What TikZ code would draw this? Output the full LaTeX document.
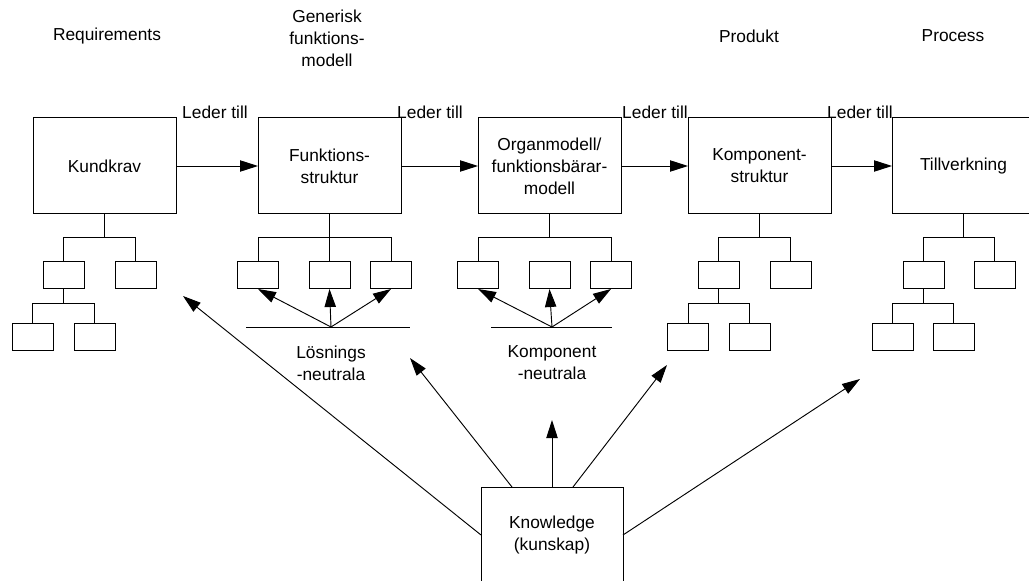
\documentclass[tikz,border=0pt]{standalone}
\usepackage{fontspec}
\setmainfont{Liberation Sans}
\usetikzlibrary{arrows.meta,calc}
\begin{document}
\begin{tikzpicture}[x=0.75pt,y=-0.75pt,
  every node/.style={font=\fontsize{13}{16.5}\selectfont},
  bigbox/.style={draw,line width=0.75pt,minimum width=107.25pt,minimum height=72pt,
    inner sep=0pt,outer sep=0pt,align=center},
  smallbox/.style={draw,line width=0.75pt,minimum width=30.75pt,minimum height=20.25pt,
    inner sep=0pt,outer sep=0pt},
  lbl/.style={align=center,inner sep=0pt},
  conn/.style={line width=0.75pt},
  flow/.style={line width=0.7pt,-{Triangle[length=13.5pt,width=8.5pt]}}]

\useasboundingbox (0,0) rectangle (1029,581);
\clip (0,0) rectangle (1029,581);

% column headings
\node[lbl] (hReq)  at (107,36) {Requirements};
\node[lbl] (hGen)  at (327,38) {Generisk\\funktions-\\modell};
\node[lbl] (hProd) at (749,36) {Produkt};
\node[lbl] (hProc) at (953,36) {Process};

% main chain
\node[bigbox] (kund)  at (104.5,166) {Kundkrav};
\node[bigbox] (funk)  at (329.5,166) {Funktions-\\struktur};
\node[bigbox] (organ) at (549.5,166) {Organmodell/\\funktionsbärar-\\modell};
\node[bigbox] (komp)  at (759.5,166) {Komponent-\\struktur};
\node[bigbox] (till)  at (963.5,166) {Tillverkning};

\draw[flow] (kund)  -- (funk);
\draw[flow] (funk)  -- (organ);
\draw[flow] (organ) -- (komp);
\draw[flow] (komp)  -- (till);

\node[lbl] (led1) at (215,112) {Leder till};
\node[lbl] (led2) at (430,112) {Leder till};
\node[lbl] (led3) at (655,112) {Leder till};
\node[lbl] (led4) at (860,112) {Leder till};

% tree under Kundkrav
\node[smallbox] (k1) at (63.5,275.5) {};
\node[smallbox] (k2) at (135.5,275.5) {};
\node[smallbox] (k3) at (32.5,336.5) {};
\node[smallbox] (k4) at (94.5,336.5) {};
\draw[conn] (kund.south) -- ++(0,24) -| (k1.north);
\draw[conn] (kund.south) -- ++(0,24) -| (k2.north);
\draw[conn] (k1.south) -- ++(0,15) -| (k3.north);
\draw[conn] (k1.south) -- ++(0,15) -| (k4.north);

% tree under Funktionsstruktur
\node[smallbox] (f1) at (258,275.5) {};
\node[smallbox] (f2) at (329.5,275.5) {};
\node[smallbox] (f3) at (391,275.5) {};
\draw[conn] (funk.south) -- (f2.north);
\draw[conn] (funk.south) -- ++(0,24) -| (f1.north);
\draw[conn] (funk.south) -- ++(0,24) -| (f3.north);
\coordinate (lsL) at (246,327);
\coordinate (lsR) at (410,327);
\coordinate (lsO) at (331,327);
\draw[conn] (lsL) -- (lsR);
\draw[flow] (lsO) -- (f1.south);
\draw[flow] (lsO) -- (f2.south);
\draw[flow] (lsO) -- (f3.south);
\node[lbl] (losn) at (331,363) {Lösnings\\-neutrala};

% tree under Organmodell
\node[smallbox] (o1) at (478,275.5) {};
\node[smallbox] (o2) at (549.5,275.5) {};
\node[smallbox] (o3) at (611,275.5) {};
\draw[conn] (organ.south) -- ++(0,24) -| (o1.north);
\draw[conn] (organ.south) -- ++(0,24) -| (o3.north);
\coordinate (knL) at (491,327);
\coordinate (knR) at (612,327);
\coordinate (knO) at (552,327);
\draw[conn] (knL) -- (knR);
\draw[flow] (knO) -- (o1.south);
\draw[flow] (knO) -- (o2.south);
\draw[flow] (knO) -- (o3.south);
\node[lbl] (kneu) at (552,363) {Komponent\\-neutrala};

% tree under Komponentstruktur
\node[smallbox] (p1) at (718.5,275.5) {};
\node[smallbox] (p2) at (790.5,275.5) {};
\node[smallbox] (p3) at (688,336.5) {};
\node[smallbox] (p4) at (749.5,336.5) {};
\draw[conn] (komp.south) -- ++(0,24) -| (p1.north);
\draw[conn] (komp.south) -- ++(0,24) -| (p2.north);
\draw[conn] (p1.south) -- ++(0,15) -| (p3.north);
\draw[conn] (p1.south) -- ++(0,15) -| (p4.north);

% tree under Tillverkning
\node[smallbox] (q1) at (923.5,275.5) {};
\node[smallbox] (q2) at (994.5,275.5) {};
\node[smallbox] (q3) at (892.5,336.5) {};
\node[smallbox] (q4) at (953.5,336.5) {};
\draw[conn] (till.south) -- ++(0,24) -| (q1.north);
\draw[conn] (till.south) -- ++(0,24) -| (q2.north);
\draw[conn] (q1.south) -- ++(0,15) -| (q3.north);
\draw[conn] (q1.south) -- ++(0,15) -| (q4.north);

% knowledge feeding every stage
\node[bigbox,minimum width=106.5pt] (know) at (552,535) {Knowledge\\(kunskap)};
\coordinate (t1) at (183,296);
\coordinate (t2) at (410,358);
\coordinate (t3) at (552,420);
\coordinate (t4) at (667,365);
\coordinate (t5) at (860,379);
\draw[flow] (know.west) -- (t1);
\draw[flow] ([xshift=-30pt]know.north) -- (t2);
\draw[flow] (know.north) -- (t3);
\draw[flow] ([xshift=15.75pt]know.north) -- (t4);
\draw[flow] (know.east) -- (t5);
\end{tikzpicture}
\end{document}
